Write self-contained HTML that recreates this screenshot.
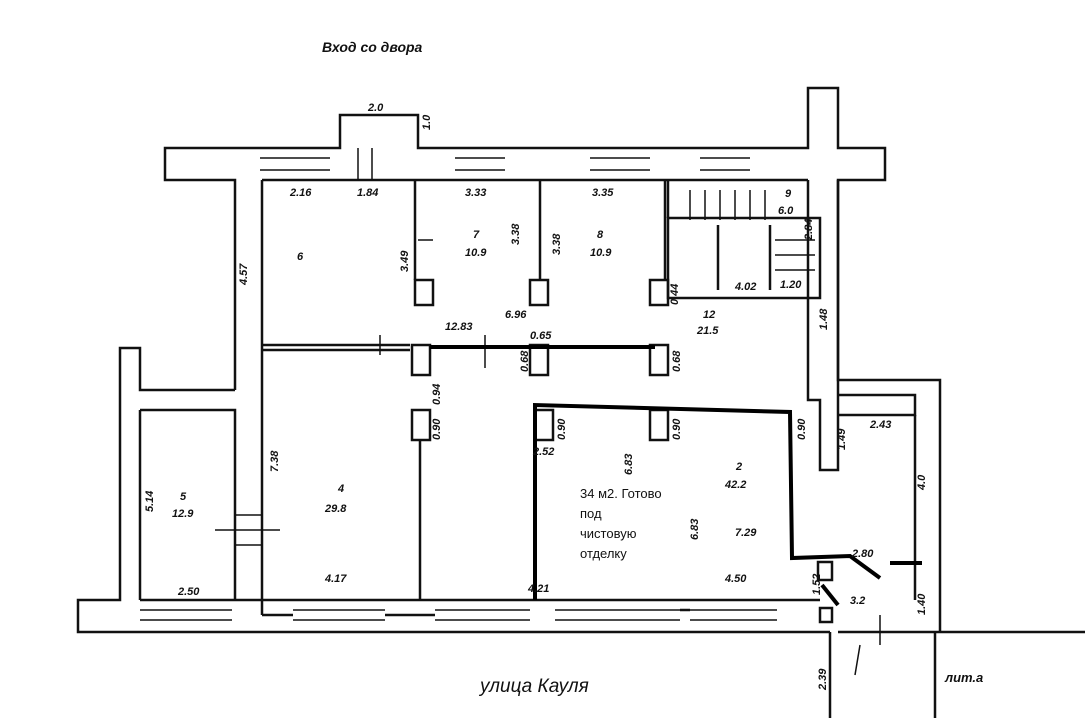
<!DOCTYPE html>
<html><head><meta charset="utf-8"><style>
body{margin:0;background:#fff;width:1085px;height:718px;overflow:hidden}
svg{display:block}
text{font-family:"Liberation Sans",sans-serif;font-style:italic;font-weight:bold;fill:#111}
.d{font-size:11px}
.t{font-family:"Liberation Sans",sans-serif;font-style:normal;font-weight:normal;font-size:13px}
</style></head><body>
<svg width="1085" height="718" viewBox="0 0 1085 718" xmlns="http://www.w3.org/2000/svg">
<g fill="none" stroke="#111" stroke-width="2.5">
<polyline points="235,390 235,180 165,180 165,148 340,148 340,115 418,115 418,148 808,148 808,88 838,88 838,148 885,148 885,180 838,180 838,380 915,380"/>
<line x1="262" y1="180" x2="808" y2="180"/>
<line x1="262" y1="180" x2="262" y2="615"/>
<polyline points="808,180 808,400 820,400 820,470 838,470 838,180"/>
<polyline points="838,395 915,395 915,415 838,415"/>
<polyline points="915,380 940,380 940,632"/>
<line x1="915" y1="415" x2="915" y2="600"/>
<line x1="838" y1="632" x2="1085" y2="632"/>
<line x1="830" y1="632" x2="830" y2="718"/>
<line x1="935" y1="632" x2="935" y2="718"/>
<polyline points="235,390 140,390 140,348 120,348 120,600 78,600 78,632 830,632"/>
<polyline points="140,410 235,410 235,600"/>
<line x1="140" y1="410" x2="140" y2="600"/>
<line x1="140" y1="600" x2="820" y2="600"/>
<line x1="262" y1="615" x2="293" y2="615"/>
<line x1="385" y1="615" x2="435" y2="615"/>
<line x1="680" y1="610" x2="690" y2="610"/>
<line x1="262" y1="345" x2="410" y2="345"/>
<line x1="262" y1="350" x2="410" y2="350"/>
<rect x="412" y="345" width="18" height="30"/><rect x="530" y="345" width="18" height="30"/><rect x="650" y="345" width="18" height="30"/>
<rect x="412" y="410" width="18" height="30"/><rect x="535" y="410" width="18" height="30"/><rect x="650" y="410" width="18" height="30"/>
<rect x="818" y="562" width="14" height="18"/><rect x="820" y="608" width="12" height="14"/>
<line x1="420" y1="440" x2="420" y2="600"/>
<line x1="415" y1="180" x2="415" y2="280"/><rect x="415" y="280" width="18" height="25"/>
<line x1="540" y1="180" x2="540" y2="280"/><rect x="530" y="280" width="18" height="25"/>
<line x1="665" y1="180" x2="665" y2="280"/><rect x="650" y="280" width="18" height="25"/>
<rect x="668" y="218" width="152" height="80"/>
<line x1="668" y1="180" x2="668" y2="218"/>
<line x1="718" y1="225" x2="718" y2="290"/><line x1="770" y1="225" x2="770" y2="290"/>
<g stroke-width="1.5">
<path d="M260,158h70M260,170h70M455,158h50M455,170h50M590,158h60M590,170h60M700,158h50M700,170h50M358,148v32M372,148v32"/>
<path d="M140,610h92M140,620h92M293,610h92M293,620h92M435,610h95M435,620h95M555,610h125M555,620h125M690,610h87M690,620h87"/>
<path d="M235,515h28M235,545h28M215,530h65"/>
<path d="M690,190v30M705,190v30M720,190v30M735,190v30M750,190v30M765,190v30"/>
<path d="M775,240h40M775,255h40M775,270h40"/>
<path d="M860,645l-5,30M880,615v30M485,335v33M380,335v20M418,240h15"/>
</g>
</g>
<g stroke="#000" stroke-width="4" fill="none">
<line x1="430" y1="347" x2="655" y2="347"/>
<polyline points="535,600 535,405 790,412 792,558 850,556 880,578"/>
<line x1="890" y1="563" x2="922" y2="563"/>
<line x1="822" y1="585" x2="838" y2="605"/>
</g>
<text x="322" y="52" style="font-size:14px">Вход со двора</text>
<text x="480" y="692" style="font-size:19px;font-weight:normal">улица Кауля</text>
<text x="945" y="682" class="d" style="font-size:13px">лит.а</text>
<text x="580" y="498" class="t">34 м2. Готово</text>
<text x="580" y="518" class="t">под</text>
<text x="580" y="538" class="t">чистовую</text>
<text x="580" y="558" class="t">отделку</text>
<g class="d">
<text x="368" y="111">2.0</text><text x="290" y="196">2.16</text><text x="357" y="196">1.84</text><text x="465" y="196">3.33</text><text x="592" y="196">3.35</text>
<text x="297" y="260">6</text><text x="473" y="238">7</text><text x="465" y="256">10.9</text><text x="597" y="238">8</text><text x="590" y="256">10.9</text>
<text x="785" y="197">9</text><text x="778" y="214">6.0</text><text x="735" y="290">4.02</text><text x="703" y="318">12</text><text x="697" y="334">21.5</text>
<text x="445" y="330">12.83</text><text x="505" y="318">6.96</text><text x="530" y="339">0.65</text>
<text x="180" y="500">5</text><text x="172" y="517">12.9</text><text x="338" y="492">4</text><text x="325" y="512">29.8</text>
<text x="736" y="470">2</text><text x="725" y="488">42.2</text><text x="735" y="536">7.29</text><text x="852" y="557">2.80</text>
<text x="870" y="428">2.43</text><text x="850" y="604">3.2</text><text x="178" y="595">2.50</text><text x="325" y="582">4.17</text>
<text x="725" y="582">4.50</text><text x="528" y="592">4.21</text><text x="533" y="455">2.52</text><text x="780" y="288">1.20</text>
<text transform="translate(430,130) rotate(-90)">1.0</text>
<text transform="translate(247,285) rotate(-90)">4.57</text>
<text transform="translate(408,272) rotate(-90)">3.49</text>
<text transform="translate(519,245) rotate(-90)">3.38</text>
<text transform="translate(560,255) rotate(-90)">3.38</text>
<text transform="translate(278,472) rotate(-90)">7.38</text>
<text transform="translate(153,512) rotate(-90)">5.14</text>
<text transform="translate(632,475) rotate(-90)">6.83</text>
<text transform="translate(698,540) rotate(-90)">6.83</text>
<text transform="translate(440,405) rotate(-90)">0.94</text>
<text transform="translate(440,440) rotate(-90)">0.90</text>
<text transform="translate(565,440) rotate(-90)">0.90</text>
<text transform="translate(680,440) rotate(-90)">0.90</text>
<text transform="translate(528,372) rotate(-90)">0.68</text>
<text transform="translate(680,372) rotate(-90)">0.68</text>
<text transform="translate(805,440) rotate(-90)">0.90</text>
<text transform="translate(845,450) rotate(-90)">1.49</text>
<text transform="translate(827,330) rotate(-90)">1.48</text>
<text transform="translate(812,240) rotate(-90)">2.84</text>
<text transform="translate(925,490) rotate(-90)">4.0</text>
<text transform="translate(925,615) rotate(-90)">1.40</text>
<text transform="translate(820,595) rotate(-90)">1.52</text>
<text transform="translate(826,690) rotate(-90)">2.39</text>
<text transform="translate(678,305) rotate(-90)">0.44</text>
</g>
</svg>
</body></html>
